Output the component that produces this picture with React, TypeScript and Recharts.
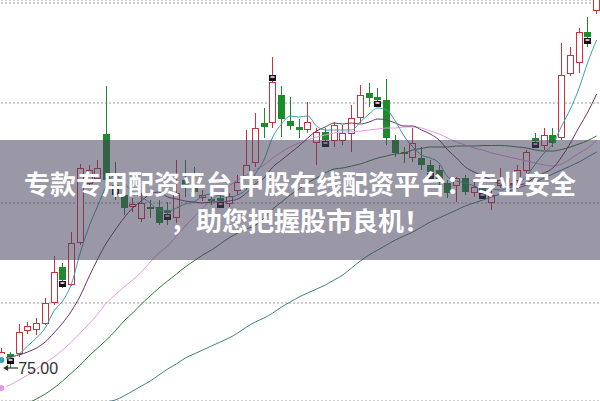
import React from "react";
import {
  ComposedChart,
  Bar,
  Line,
  XAxis,
  YAxis,
  CartesianGrid,
  ReferenceDot,
} from "recharts";

// daily candles
const opens = [
  75.8, 76.4, 76.5, 78.8, 78.9, 79.5, 81.6, 85.1, 83.4, 87.6,
  93.5, 94.0, 98.4, 93.3, 92.3, 91.2, 90.0, 91.1, 91.1, 90.8,
  90.1, 93.8, 93.0, 92.1, 91.9, 92.0, 91.5, 92.8, 93.3, 95.6,
  99.5, 99.6, 102.3, 99.7, 99.1, 98.9, 97.6, 98.6, 97.8, 97.8,
  98.5, 100.1, 102.5, 102.1, 101.8, 97.8, 96.6, 96.1, 96.0, 95.3,
  94.8, 93.5, 93.3, 94.0, 92.6, 93.0, 91.6, 93.3, 93.4, 93.8,
  94.8, 98.0, 97.3, 98.3, 98.1, 104.5, 105.6, 108.6, 110.8,
];
const highs = [
  77.0, 76.6, 79.4, 79.6, 80.0, 82.0, 86.2, 85.5, 88.6, 95.4,
  95.3, 95.8, 103.2, 95.6, 93.1, 92.0, 92.5, 91.8, 91.8, 91.6,
  95.8, 95.8, 95.1, 92.8, 92.3, 92.4, 92.5, 94.3, 98.8, 100.5,
  101.0, 106.1, 103.2, 102.1, 99.9, 101.6, 99.0, 99.0, 99.6, 99.3,
  101.3, 103.3, 103.5, 103.0, 103.9, 98.3, 97.1, 99.0, 97.1, 95.8,
  95.3, 93.8, 94.1, 94.3, 93.6, 93.3, 93.1, 95.0, 94.0, 95.3,
  96.8, 98.5, 99.0, 99.0, 107.5, 107.1, 109.0, 110.1, 113.3,
];
const lows = [
  75.4, 75.0, 76.1, 78.4, 78.3, 79.3, 81.3, 83.0, 83.2, 87.3,
  93.0, 93.6, 92.8, 91.8, 90.3, 90.6, 89.6, 90.0, 89.3, 89.3,
  89.5, 92.1, 92.1, 91.7, 91.3, 91.4, 91.1, 92.3, 92.8, 95.1,
  98.0, 99.0, 98.1, 98.8, 98.0, 98.5, 95.3, 97.1, 97.1, 97.3,
  96.6, 99.5, 101.1, 101.1, 97.3, 96.1, 95.5, 95.6, 94.8, 94.1,
  93.3, 92.0, 91.6, 92.3, 92.1, 91.9, 90.8, 93.0, 93.0, 93.5,
  94.5, 97.0, 96.8, 97.1, 97.8, 104.2, 104.5, 107.1, 110.4,
];
const closes = [
  76.6, 76.1, 78.6, 79.2, 79.5, 81.5, 84.6, 83.8, 87.5, 95.0,
  94.8, 95.0, 93.8, 93.0, 91.0, 91.4, 91.5, 90.9, 89.5, 90.5,
  92.5, 93.0, 92.6, 92.3, 91.7, 91.7, 92.2, 93.6, 95.3, 99.0,
  99.1, 103.6, 99.9, 99.2, 98.8, 99.6, 98.6, 97.8, 99.3, 98.5,
  100.0, 102.3, 102.0, 101.8, 98.0, 96.5, 96.4, 97.5, 95.3, 94.6,
  93.8, 92.5, 94.0, 92.6, 93.1, 92.6, 92.3, 93.8, 93.5, 94.8,
  96.6, 97.7, 98.3, 97.5, 104.3, 106.3, 108.6, 108.1, 112.3,
];

// moving averages
const ma5 = [
  75.8, 76.0, 76.4, 77.2, 78.0, 79.0, 80.7, 81.7, 83.4, 86.5,
  89.1, 91.2, 93.2, 94.3, 93.5, 92.6, 92.1, 91.5, 90.8, 90.7,
  91.0, 91.4, 91.6, 92.2, 92.4, 92.2, 92.1, 92.3, 92.9, 94.4,
  95.8, 98.1, 99.4, 100.2, 100.1, 100.2, 99.2, 98.8, 98.8, 98.8,
  98.8, 99.6, 100.4, 101.0, 100.8, 99.7, 98.2, 97.1, 96.3, 96.0,
  95.5, 94.1, 93.7, 93.5, 93.2, 92.9, 92.9, 92.8, 93.0, 93.4,
  94.2, 95.4, 96.5, 97.4, 99.2, 100.9, 103.0, 105.6, 107.8,
];
const ma10 = [
  76.0, 76.1, 76.3, 76.6, 77.0, 77.6, 78.5, 79.5, 80.7, 82.2,
  84.1, 85.9, 87.5, 88.8, 90.0, 91.0, 91.7, 92.4, 92.6, 92.1,
  91.9, 91.7, 91.6, 91.5, 91.6, 91.6, 91.7, 91.9, 92.5, 93.4,
  94.0, 95.1, 95.8, 96.5, 97.2, 98.0, 98.7, 99.1, 99.5, 99.4,
  99.5, 99.4, 99.6, 99.9, 99.8, 99.5, 99.2, 99.2, 98.8, 98.4,
  97.8, 96.8, 96.0, 95.1, 94.6, 94.2, 93.8, 93.4, 93.2, 93.3,
  93.5, 94.1, 94.5, 95.0, 96.1, 97.5, 99.1, 100.6, 102.4,
];
const ma20 = [
  73.0, 73.3, 73.8, 74.3, 74.9, 75.5, 76.1, 76.8, 77.6, 78.5,
  79.4, 80.4, 81.5, 82.3, 83.1, 83.8, 84.6, 85.6, 86.5, 87.2,
  88.2, 89.2, 90.1, 91.0, 91.8, 92.5, 93.2, 93.8, 94.3, 94.8,
  95.3, 96.0, 96.6, 97.1, 97.5, 97.8, 98.1, 98.3, 98.5, 98.6,
  98.6, 98.7, 98.8, 98.9, 99.0, 99.0, 99.1, 99.1, 99.0, 98.7,
  98.4, 98.0, 97.6, 97.3, 97.0, 96.8, 96.5, 96.3, 96.1, 95.9,
  95.7, 95.5, 95.3, 95.2, 95.4, 95.9, 96.5, 97.0, 97.8,
];
const ma30 = [
  70.6, 70.9, 71.2, 71.5, 71.9, 72.4, 73.0, 73.7, 74.5, 75.3,
  76.2, 77.0, 77.8, 78.7, 79.7, 80.5, 81.4, 82.2, 83.0, 83.7,
  84.4, 85.1, 85.7, 86.3, 86.8, 87.4, 88.0, 88.5, 88.9, 89.25,
  90.0, 90.9, 91.6, 92.3, 92.9, 93.5, 94.0, 94.5, 94.9, 95.0,
  95.2, 95.4, 95.7, 96.0, 96.2, 96.4, 96.5, 96.8, 96.95, 97.1,
  97.1, 97.1, 97.2, 97.2, 97.2, 97.25, 97.25, 97.26, 97.2, 97.1,
  97.0, 96.8, 96.7, 96.7, 96.85, 97.1, 97.4, 97.75, 98.2,
];
const ma60 = [
  67.3, 67.7, 68.1, 68.5, 68.9, 69.3, 69.7, 70.1, 70.5, 70.8,
  71.1, 71.4, 71.6, 71.8, 72.2, 72.7, 73.2, 73.7, 74.3, 74.9,
  75.4, 76.0, 76.4, 76.8, 77.2, 77.6, 78.0, 78.5, 79.1, 79.6,
  80.0, 80.5, 81.1, 81.6, 82.1, 82.5, 82.9, 83.3, 83.8, 84.3,
  85.0, 85.7, 86.3, 86.8, 87.3, 87.8, 88.2, 88.6, 89.1, 89.6,
  90.0, 90.4, 90.8, 91.2, 91.5, 91.8, 92.1, 92.4, 92.7, 93.0,
  93.3, 93.6, 94.0, 94.4, 94.8, 95.2, 95.6, 96.1, 96.6,
];

// days with the small black flag under (or over) the candle
const flagBelow = [1, 7, 13, 19, 25, 37, 43, 49, 55, 61, 67];
const flagAbove = [31];

const gridTicks = [81.5, 91.5, 101.5, 111.5];

const RED = "#d0303c";
const GREEN = "#1d8a2c";

const days = opens.map((_, i) => `d${i + 1}`);

const data = days.map((day, i) => ({
  day,
  open: opens[i],
  high: highs[i],
  low: lows[i],
  close: closes[i],
  range: [lows[i], highs[i]],
  flag: flagBelow.includes(i) ? 1 : flagAbove.includes(i) ? -1 : 0,
  ma5: ma5[i],
  ma10: ma10[i],
  ma20: ma20[i],
  ma30: ma30[i],
  ma60: ma60[i],
}));

const minIndex = lows.indexOf(Math.min(...lows));

function Candle(props: any) {
  const { x, y, width, height, payload } = props;
  if (x == null || !payload) return null;
  const top = Math.min(y, y + height);
  const h = Math.abs(height);
  const span = payload.high - payload.low || 1;
  const py = (v: number) => top + ((payload.high - v) / span) * h;
  const cx = Math.round(x + width / 2) + 0.5;
  const rising = payload.close >= payload.open;
  const color = rising ? RED : GREEN;
  const bTop = py(Math.max(payload.open, payload.close));
  const bBot = py(Math.min(payload.open, payload.close));
  const bh = Math.max(bBot - bTop, 1);

  let flag = null;
  if (payload.flag !== 0) {
    const fy = payload.flag > 0 ? bTop + bh + 1 : bTop - 7;
    flag = (
      <g>
        <rect x={cx - 3.5} y={fy} width={7} height={6} fill="#111" />
        <rect x={cx - 2} y={fy + 1} width={4} height={2} fill="#e9a6e9" />
      </g>
    );
  }

  return (
    <g>
      <line x1={cx} x2={cx} y1={top} y2={top + h} stroke={color} strokeWidth={1} />
      {rising ? (
        <rect
          x={cx - 3}
          y={Math.round(bTop) + 0.5}
          width={6}
          height={Math.max(Math.round(bh), 1)}
          fill="#fff"
          stroke={color}
          strokeWidth={1}
        />
      ) : (
        <rect x={cx - 3.5} y={bTop} width={7} height={bh} fill={color} />
      )}
      {flag}
    </g>
  );
}

function LowLabel(props: any) {
  const { cx, cy } = props;
  if (cx == null) return null;
  return (
    <g>
      <line x1={cx - 5} x2={cx + 8} y1={cy} y2={cy} stroke="#333" strokeWidth={1.2} />
      <path d={`M${cx - 7},${cy} l5,-3 v6 z`} fill="#333" />
      <text
        x={cx + 8}
        y={cy + 6}
        fontSize={16}
        fill="#333"
        fontFamily="Liberation Sans, Arial, sans-serif"
      >
        {lows[minIndex].toFixed(2)}
      </text>
    </g>
  );
}

export default function App() {
  return (
    <div
      style={{
        position: "absolute",
        left: 0,
        top: 0,
        width: 600,
        height: 401,
        overflow: "hidden",
        background: "#fff",
      }}
    >
      <div style={{ position: "absolute", left: -3, top: 0 }}>
        <ComposedChart
          width={604}
          height={401}
          data={data}
          margin={{ top: 0, right: 0, bottom: 0, left: 0 }}
        >
          <CartesianGrid
            vertical={false}
            stroke="#9a9a9a"
            strokeDasharray="2 2"
          />
          <XAxis dataKey="day" hide />
          <YAxis
            hide
            domain={[71.7, 111.8]}
            ticks={gridTicks}
            allowDataOverflow
          />
          <Line type="monotone" dataKey="ma60" stroke="#3f7f86" strokeWidth={1} dot={false} isAnimationActive={false} />
          <Line type="monotone" dataKey="ma30" stroke="#2f7a34" strokeWidth={1} dot={false} isAnimationActive={false} />
          <Line type="monotone" dataKey="ma20" stroke="#e39be3" strokeWidth={1} dot={false} isAnimationActive={false} />
          <Line type="monotone" dataKey="ma10" stroke="#6a3566" strokeWidth={1} dot={false} isAnimationActive={false} />
          <Line type="monotone" dataKey="ma5" stroke="#3aa3a8" strokeWidth={1} dot={false} isAnimationActive={false} />
          <Bar
            dataKey="range"
            barSize={6}
            shape={<Candle />}
            isAnimationActive={false}
          />
          <ReferenceDot
            x={days[minIndex]}
            y={lows[minIndex]}
            r={0}
            shape={<LowLabel />}
          />
        </ComposedChart>
      </div>

      {/* grey banner over the chart */}
      <div
        style={{
          position: "absolute",
          left: 0,
          top: 140,
          width: 600,
          height: 120,
          background: "rgba(71,66,93,0.55)",
          color: "#fff",
          fontFamily: '"Noto Sans CJK SC", sans-serif',
          fontWeight: 700,
          fontSize: 26,
          textAlign: "center",
        }}
      >
        <div style={{ position: "absolute", left: 0, width: 600, top: 27, lineHeight: "32px", whiteSpace: "nowrap" }}>
          专款专用配资平台 中股在线配资平台：专业安全
        </div>
        <div style={{ position: "absolute", left: 0, width: 600, top: 64, lineHeight: "32px", whiteSpace: "nowrap" }}>
          ，助您把握股市良机！
        </div>
      </div>
    </div>
  );
}
